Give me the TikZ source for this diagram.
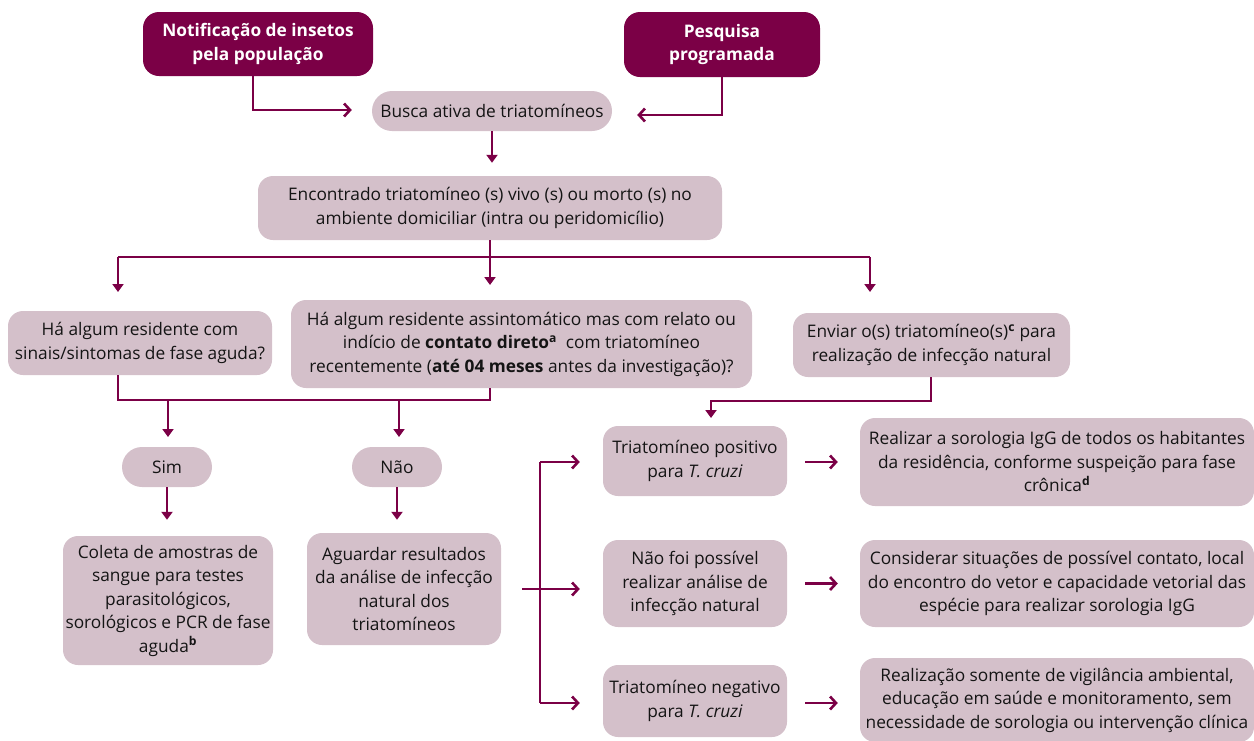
\documentclass[tikz,border=0pt]{standalone}
\usepackage{fontspec}
\setmainfont{Open Sans}
\usetikzlibrary{arrows.meta}
\definecolor{dark}{RGB}{123,0,70}
\definecolor{light}{RGB}{212,192,202}
\definecolor{txt}{RGB}{20,20,20}
\begin{document}
\begin{tikzpicture}[x=1pt,y=-1pt,
  base/.style={rectangle,rounded corners=15pt,align=center,inner sep=0pt,
     font=\fontsize{17.3}{23.5}\selectfont},
  darkbox/.style={base,fill=dark,text=white,font=\fontsize{17.3}{23.5}\selectfont\bfseries,rounded corners=16pt},
  lightbox/.style={base,fill=light,text=txt},
  conn/.style={draw=dark,line width=2.6pt},
  tri/.style={conn,-{Triangle[length=8pt,width=11pt]}},
  barb/.style={conn,-{Straight Barb[length=6pt,width=13pt,line width=2.6pt]}}
]
\useasboundingbox (0,0) rectangle (1254,740);
% nodes
\node[darkbox,minimum width=230pt,minimum height=64pt] (notif) at (258,44) {Notificação de insetos\\pela população};
\node[darkbox,minimum width=196pt,minimum height=65pt] (pesq) at (722,44.5) {Pesquisa\\programada};
\node[lightbox,rounded corners=20pt,minimum width=240pt,minimum height=40pt] (busca) at (492,111) {Busca ativa de triatomíneos};
\node[lightbox,minimum width=464pt,minimum height=64pt] (enc) at (490,208) {Encontrado triatomíneo (s) vivo (s) ou morto (s) no\\ambiente domiciliar (intra ou peridomicílio)};
\node[lightbox,minimum width=264pt,minimum height=64pt] (q1) at (140,343) {Há algum residente com\\sinais/sintomas de fase aguda?};
\node[lightbox,minimum width=461pt,minimum height=88pt] (q2) at (521.5,344) {Há algum residente assintomático mas com relato ou\\indício de \textbf{contato direto}\textsuperscript{\textbf{a}}\ \ com triatomíneo\\recentemente (\textbf{até 04 meses} antes da investigação)?};
\node[lightbox,minimum width=277pt,minimum height=64pt] (env) at (931.5,345) {Enviar o(s) triatomíneo(s)\textsuperscript{\textbf{c}} para\\realização de infecção natural};
\node[lightbox,rounded corners=20pt,minimum width=90pt,minimum height=40pt] (sim) at (167,467) {Sim};
\node[lightbox,rounded corners=20pt,minimum width=90pt,minimum height=40pt] (nao) at (397,467) {Não};
\node[lightbox,minimum width=210pt,minimum height=129pt] (coleta) at (168,600.5) {Coleta de amostras de\\sangue para testes\\parasitológicos,\\sorológicos e PCR de fase\\aguda\textsuperscript{\textbf{b}}};
\node[lightbox,minimum width=194pt,minimum height=112pt] (aguard) at (404,589) {Aguardar resultados\\da análise de infecção\\natural dos\\triatomíneos};
\node[lightbox,minimum width=184pt,minimum height=70pt] (tpos) at (695,461) {Triatomíneo positivo\\para \textit{T. cruzi}};
\node[lightbox,minimum width=184pt,minimum height=87pt] (nfp) at (695,583.5) {Não foi possível\\realizar análise de\\infecção natural};
\node[lightbox,minimum width=184pt,minimum height=72pt] (tneg) at (695,701) {Triatomíneo negativo\\para \textit{T. cruzi}};
\node[lightbox,minimum width=394pt,minimum height=88pt] (rsor) at (1057,462) {Realizar a sorologia IgG de todos os habitantes\\da residência, conforme suspeição para fase\\crônica\textsuperscript{\textbf{d}}};
\node[lightbox,minimum width=394pt,minimum height=87pt] (cons) at (1057,583.5) {Considerar situações de possível contato, local\\do encontro do vetor e capacidade vetorial das\\espécie para realizar sorologia IgG};
\node[lightbox,minimum width=394pt,minimum height=84pt] (rsom) at (1057,700) {Realização somente de vigilância ambiental,\\educação em saúde e monitoramento, sem\\necessidade de sorologia ou intervenção clínica};
% coordinates
\coordinate (bl) at (118,257);
\coordinate (br) at (870,257);
\coordinate (q1in) at (118,292);
\coordinate (q2in) at (490,285);
\coordinate (envin) at (870,292);
\coordinate (jl) at (118,400);
\coordinate (jr) at (490,400);
\coordinate (simin) at (168,437);
\coordinate (naoin) at (399,437);
\coordinate (ej) at (931,401);
\coordinate (tposin) at (711,418);
\coordinate (bx) at (540,589);
\coordinate (bt) at (540,462);
\coordinate (bb) at (540,703);
% connectors
\draw[barb] ([xshift=-5pt]notif.south) |- ([xshift=-20pt,yshift=1pt]busca.west);
\draw[barb] (pesq.south) |- ([xshift=25pt,yshift=-4pt]busca.east);
\draw[tri] (busca.south) -- ([yshift=13pt]enc.north -| busca.south);
\draw[tri] (enc.south) -- (q2in);
\draw[conn] (bl) -- (br);
\draw[tri] (bl) -- (q1in);
\draw[tri] (br) -- (envin);
\draw[conn] (q1.south -| jl) -- (jl) -- (jr) -- (q2.south -| jr);
\draw[tri] (jl -| simin) -- (simin);
\draw[tri] (jl -| naoin) -- (naoin);
\draw[tri] (sim.south) -- ([yshift=16pt]coleta.north -| sim.south);
\draw[tri] (nao.south) -- ([yshift=13pt]aguard.north -| nao.south);
\draw[tri] (env.south -| ej) -- (ej) -| (tposin);
\draw[conn] ([xshift=21pt]aguard.east) -- (bx);
\draw[conn] (bt) -- (bb);
\draw[barb] (bt) -- ([xshift=-23pt]tpos.west |- bt);
\draw[barb] (bx) -- ([xshift=-23pt]nfp.west |- bx);
\draw[barb] (bb) -- ([xshift=-23pt]tneg.west |- bb);
\draw[barb] ([xshift=18pt]tpos.east |- bt) -- ([xshift=-22pt]rsor.west |- bt);
\draw[barb] ([xshift=18pt]nfp.east |- cons.west) -- ([xshift=-22pt]cons.west);
\draw[barb] ([xshift=18pt]tneg.east |- bb) -- ([xshift=-22pt]rsom.west |- bb);
\end{tikzpicture}
\end{document}
